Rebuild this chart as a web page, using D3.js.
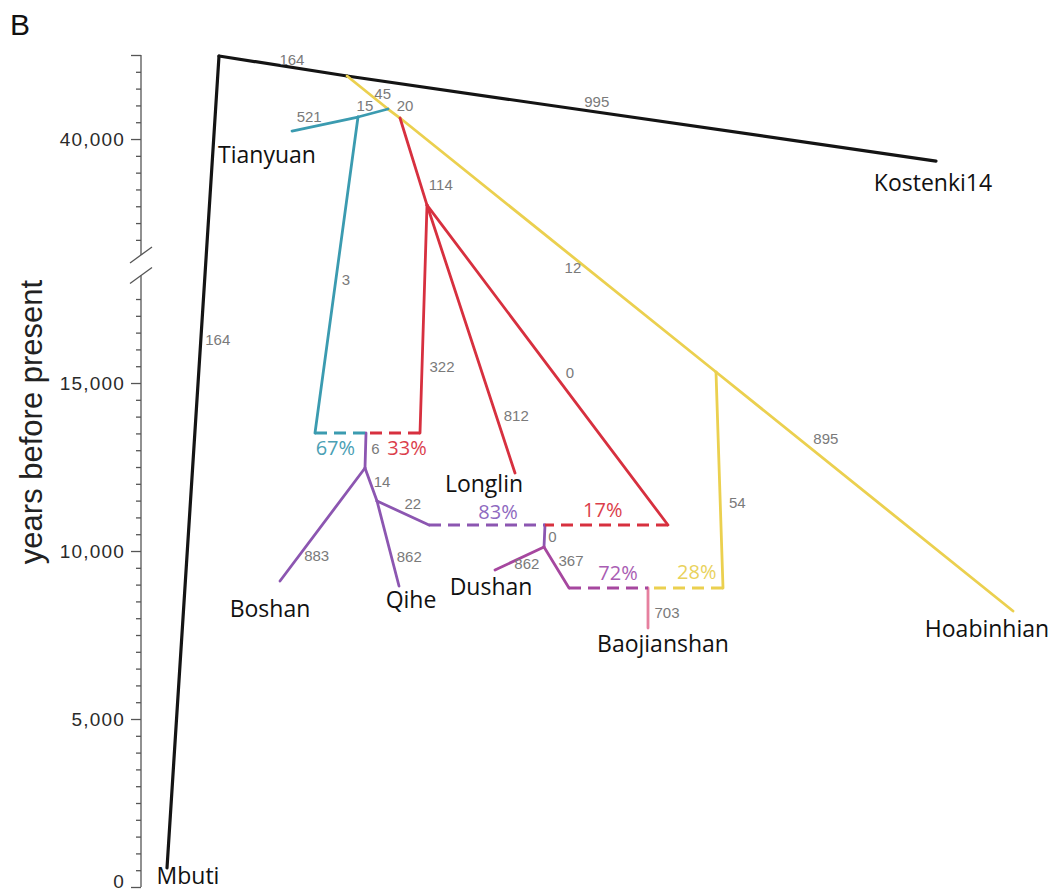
<!DOCTYPE html>
<html>
<head>
<meta charset="utf-8">
<script src="https://cdn.jsdelivr.net/npm/d3@7"></script>
<style>
  body { margin: 0; background: #fff; }
</style>
</head>
<body>
<div id="chart"></div>
<script>
// Graph nodes: horizontal layout position and age (years before present)
var nodes = [
    { id: "root",    x: 69,  years: 42470 },
    { id: "mbuti",   x: 17,  years: 565 },
    { id: "A",       x: 197, years: 41875 },
    { id: "kost",    x: 786, years: 39345 },
    { id: "B",       x: 238, years: 40893 },
    { id: "T1",      x: 208, years: 40655 },
    { id: "tian",    x: 142, years: 40238 },
    { id: "C",       x: 250, years: 40625 },
    { id: "D",       x: 277, years: 38036 },
    { id: "E",       x: 566, years: 15327 },
    { id: "hoab",    x: 863, years: 8214 },
    { id: "tealEnd", x: 165, years: 13512 },
    { id: "M1",      x: 216, years: 13512 },
    { id: "redEnd1", x: 270, years: 13512 },
    { id: "P1",      x: 215, years: 12470 },
    { id: "boshan",  x: 130, years: 9107 },
    { id: "P2",      x: 227, years: 11488 },
    { id: "qihe",    x: 249, years: 8958 },
    { id: "P3",      x: 279, years: 10774 },
    { id: "longlin", x: 365, years: 12321 },
    { id: "M2",      x: 395, years: 10774 },
    { id: "redEnd2", x: 518, years: 10774 },
    { id: "Q",       x: 394, years: 10119 },
    { id: "dushan",  x: 345, years: 9435 },
    { id: "R2",      x: 419, years: 8899 },
    { id: "M3",      x: 498, years: 8899 },
    { id: "yEnd",    x: 573, years: 8899 },
    { id: "baoj",    x: 498, years: 7708 }
];

// Tree edges with the drift values printed on them
var edges = [
    { from: "root",    to: "mbuti",   group: "black",   drift: "164" },
    { from: "root",    to: "A",       group: "black",   drift: "164" },
    { from: "A",       to: "kost",    group: "black",   drift: "995" },
    { from: "A",       to: "B",       group: "yellow",  drift: "45" },
    { from: "B",       to: "C",       group: "yellow",  drift: "20" },
    { from: "C",       to: "E",       group: "yellow",  drift: "12" },
    { from: "E",       to: "hoab",    group: "yellow",  drift: "895" },
    { from: "E",       to: "yEnd",    group: "yellow",  drift: "54" },
    { from: "B",       to: "T1",      group: "teal",    drift: "15" },
    { from: "T1",      to: "tian",    group: "teal",    drift: "521" },
    { from: "T1",      to: "tealEnd", group: "teal",    drift: "3" },
    { from: "C",       to: "D",       group: "red",     drift: "114" },
    { from: "D",       to: "redEnd1", group: "red",     drift: "322" },
    { from: "D",       to: "longlin", group: "red",     drift: "812" },
    { from: "D",       to: "redEnd2", group: "red",     drift: "0" },
    { from: "M1",      to: "P1",      group: "purple",  drift: "6" },
    { from: "P1",      to: "boshan",  group: "purple",  drift: "883" },
    { from: "P1",      to: "P2",      group: "purple",  drift: "14" },
    { from: "P2",      to: "qihe",    group: "purple",  drift: "862" },
    { from: "P2",      to: "P3",      group: "purple",  drift: "22" },
    { from: "M2",      to: "Q",       group: "purple",  drift: "0" },
    { from: "Q",       to: "dushan",  group: "magenta", drift: "862" },
    { from: "Q",       to: "R2",      group: "magenta", drift: "367" },
    { from: "M3",      to: "baoj",    group: "pink",    drift: "703" }
];

// Admixture edges (dashed) with their mixture proportions
var admixEdges = [
    { from: "tealEnd", to: "M1", group: "teal",    weight: "67%" },
    { from: "redEnd1", to: "M1", group: "red",     weight: "33%" },
    { from: "P3",      to: "M2", group: "purple",  weight: "83%" },
    { from: "redEnd2", to: "M2", group: "red",     weight: "17%" },
    { from: "R2",      to: "M3", group: "magenta", weight: "72%" },
    { from: "yEnd",    to: "M3", group: "yellow",  weight: "28%" }
];

// Sampled populations at the leaves
var tips = [
    { node: "mbuti",   name: "Mbuti" },
    { node: "kost",    name: "Kostenki14" },
    { node: "tian",    name: "Tianyuan" },
    { node: "longlin", name: "Longlin" },
    { node: "boshan",  name: "Boshan" },
    { node: "qihe",    name: "Qihe" },
    { node: "dushan",  name: "Dushan" },
    { node: "baoj",    name: "Baojianshan" },
    { node: "hoab",    name: "Hoabinhian" }
];

// Time axis: two segments with a break, minor ticks every 500 years
var lowerTickRange = [0, 17500];
var upperTickRange = [37000, 42500];
var labeledTicks = [0, 5000, 10000, 15000, 40000];
var longTicks = [0, 5000, 10000, 15000, 40000, 42500];
var axisBreak = [18200, 36550];

// ---- styles and label placement ----
var lineColors = {
    black: "#141414", teal: "#3b9bb0", red: "#d7303f", yellow: "#ebd04f",
    purple: "#8c56b1", magenta: "#a6479f", pink: "#e6809f"
};
var weightColors = {
    teal: "#4aa0b4", red: "#db3e4b", purple: "#8e69c0", magenta: "#a95db3", yellow: "#e9d25c"
};
// [fraction along edge, dx, dy]
var driftLabelPos = {
    "root-mbuti": [0.35, 17, 0], "root-A": [0.57, 0, -8], "A-kost": [0.424, 0, -10],
    "A-B": [0.7, 7, -5], "B-C": [0.5, 11, -7.5], "C-E": [0.563, -5, 7],
    "E-hoab": [0.37, 0, -22], "E-yEnd": [0.606, 17, 0], "B-T1": [0.77, 0, -9],
    "T1-tian": [0.74, 0, -11], "T1-tealEnd": [0.516, 10, 0], "C-D": [0.77, 20, 0],
    "D-redEnd1": [0.71, 20, 0], "D-longlin": [0.787, 20, 0], "D-redEnd2": [0.525, 16.5, 0],
    "M1-P1": [0.46, 10, 0], "P1-boshan": [0.78, 18, 0], "P1-P2": [0.42, 12, 0],
    "P2-qihe": [0.65, 18, 0], "P2-P3": [0.69, 0, -13.5], "M2-Q": [0.55, 8, 0],
    "Q-dushan": [0.39, 2, 8], "Q-R2": [0.34, 18.5, 0], "M3-baoj": [0.625, 19, 0]
};
var weightLabelPos = {
    "tealEnd-M1": [0.4, 0, 15], "redEnd1-M1": [0.24, 0, 15], "P3-M2": [0.595, 0, -13],
    "redEnd2-M2": [0.53, 0, -15], "R2-M3": [0.62, 0, -15], "yEnd-M3": [0.35, 0, -16]
};
var tipLabelPos = {
    mbuti: [21, 16], kost: [-3, 30], tian: [-25, 32], longlin: [-31, 19],
    boshan: [-10, 36], qihe: [12, 22], dushan: [-4, 25], baoj: [15, 24], hoab: [-26, 26]
};

var width = 1054,
    height = 892,
    axisX = 141,
    sansFont = "'Liberation Sans', Arial, Helvetica, sans-serif",
    labelFont = "'Open Sans', 'Noto Sans', sans-serif";

var svg = d3.select("#chart")
    .append("svg")
    .attr("width", width)
    .attr("height", height);

// Scales: broken (piecewise) time axis
var x = d3.scaleLinear()
    .domain([0, 900])
    .range([150, 1050]);

var y = d3.scaleLinear()
    .domain([0, axisBreak[0], axisBreak[1], 42500])
    .range([887, 275.5, 255, 55]);

var byId = {};
nodes.forEach(function (n) { byId[n.id] = n; });

function px(id) { return x(byId[id].x); }
function py(id) { return y(byId[id].years); }

function pointAlong(e, pos) {
    var x1 = px(e.from), y1 = py(e.from), x2 = px(e.to), y2 = py(e.to);
    return [x1 + (x2 - x1) * pos[0] + pos[1], y1 + (y2 - y1) * pos[0] + pos[2]];
}

// Panel letter
svg.append("text")
    .attr("x", 10)
    .attr("y", 35)
    .text("B")
    .style("font-family", sansFont)
    .style("font-size", "30px")
    .style("fill", "#111");

// Axis title
svg.append("text")
    .attr("transform", "translate(42," + 422 + ") rotate(-90)")
    .attr("text-anchor", "middle")
    .text("years before present")
    .style("font-family", sansFont)
    .style("font-size", "31px")
    .style("fill", "#222");

// Y axis with ticks
var tickValues = d3.range(lowerTickRange[0], lowerTickRange[1] + 1, 500)
    .concat(d3.range(upperTickRange[0], upperTickRange[1] + 1, 500));

var yAxis = d3.axisLeft(y)
    .tickValues(tickValues)
    .tickSize(5)
    .tickPadding(11)
    .tickFormat(function (d) {
        return labeledTicks.indexOf(d) >= 0 ? d3.format(",")(d) : "";
    });

var gAxis = svg.append("g")
    .attr("transform", "translate(" + axisX + ",0)")
    .call(yAxis);

gAxis.select(".domain").remove();

gAxis.selectAll(".tick line")
    .attr("x2", function (d) { return longTicks.indexOf(d) >= 0 ? -10 : -5; })
    .style("stroke", "#555")
    .style("stroke-width", "1.3px");

gAxis.selectAll(".tick text")
    .attr("dy", function (d) { return d == 0 ? "0.05em" : "0.32em"; })
    .style("font-family", sansFont)
    .style("font-size", "19px")
    .style("letter-spacing", "1.2px")
    .style("fill", "#2a2a2a");

// Axis line segments on both sides of the break
[[0, axisBreak[0]], [axisBreak[1], 42500]].forEach(function (seg) {
    gAxis.append("line")
        .attr("x1", 0).attr("x2", 0)
        .attr("y1", y(seg[0]))
        .attr("y2", y(seg[1]))
        .style("stroke", "#555")
        .style("stroke-width", "1.3px");
});

// Break marks
axisBreak.forEach(function (t) {
    gAxis.append("line")
        .attr("x1", -11).attr("x2", 11)
        .attr("y1", y(t) + 8)
        .attr("y2", y(t) - 8)
        .style("stroke", "#555")
        .style("stroke-width", "1.3px");
});

// Solid tree edges
svg.append("g")
    .selectAll("line")
    .data(edges)
    .enter()
    .append("line")
    .attr("x1", function (d) { return px(d.from); })
    .attr("y1", function (d) { return py(d.from); })
    .attr("x2", function (d) { return px(d.to); })
    .attr("y2", function (d) { return py(d.to); })
    .style("stroke", function (d) { return lineColors[d.group]; })
    .style("stroke-width", function (d) { return d.group == "black" ? "3.2px" : "2.8px"; })
    .style("stroke-linecap", "round");

// Dashed admixture edges
svg.append("g")
    .selectAll("line")
    .data(admixEdges)
    .enter()
    .append("line")
    .attr("x1", function (d) { return px(d.from); })
    .attr("y1", function (d) { return py(d.from); })
    .attr("x2", function (d) { return px(d.to); })
    .attr("y2", function (d) { return py(d.to); })
    .style("stroke", function (d) { return lineColors[d.group]; })
    .style("stroke-width", "2.8px")
    .style("stroke-dasharray", "12,7");

// Drift values
svg.append("g")
    .selectAll("text")
    .data(edges)
    .enter()
    .append("text")
    .each(function (d) {
        var p = pointAlong(d, driftLabelPos[d.from + "-" + d.to]);
        d3.select(this).attr("x", p[0]).attr("y", p[1]);
    })
    .attr("dy", "0.35em")
    .attr("text-anchor", "middle")
    .text(function (d) { return d.drift; })
    .style("font-family", sansFont)
    .style("font-size", "15px")
    .style("fill", "#7a7a7a");

// Mixture proportions
svg.append("g")
    .selectAll("text")
    .data(admixEdges)
    .enter()
    .append("text")
    .each(function (d) {
        var p = pointAlong(d, weightLabelPos[d.from + "-" + d.to]);
        d3.select(this).attr("x", p[0]).attr("y", p[1]);
    })
    .attr("dy", "0.35em")
    .attr("text-anchor", "middle")
    .text(function (d) { return d.weight; })
    .style("font-family", labelFont)
    .style("font-size", "20px")
    .style("fill", function (d) { return weightColors[d.group]; });

// Population names
svg.append("g")
    .selectAll("text")
    .data(tips)
    .enter()
    .append("text")
    .attr("x", function (d) { return px(d.node) + tipLabelPos[d.node][0]; })
    .attr("y", function (d) { return py(d.node) + tipLabelPos[d.node][1]; })
    .attr("text-anchor", "middle")
    .text(function (d) { return d.name; })
    .style("font-family", labelFont)
    .style("font-size", "23px")
    .style("fill", "#111");
</script>
</body>
</html>
